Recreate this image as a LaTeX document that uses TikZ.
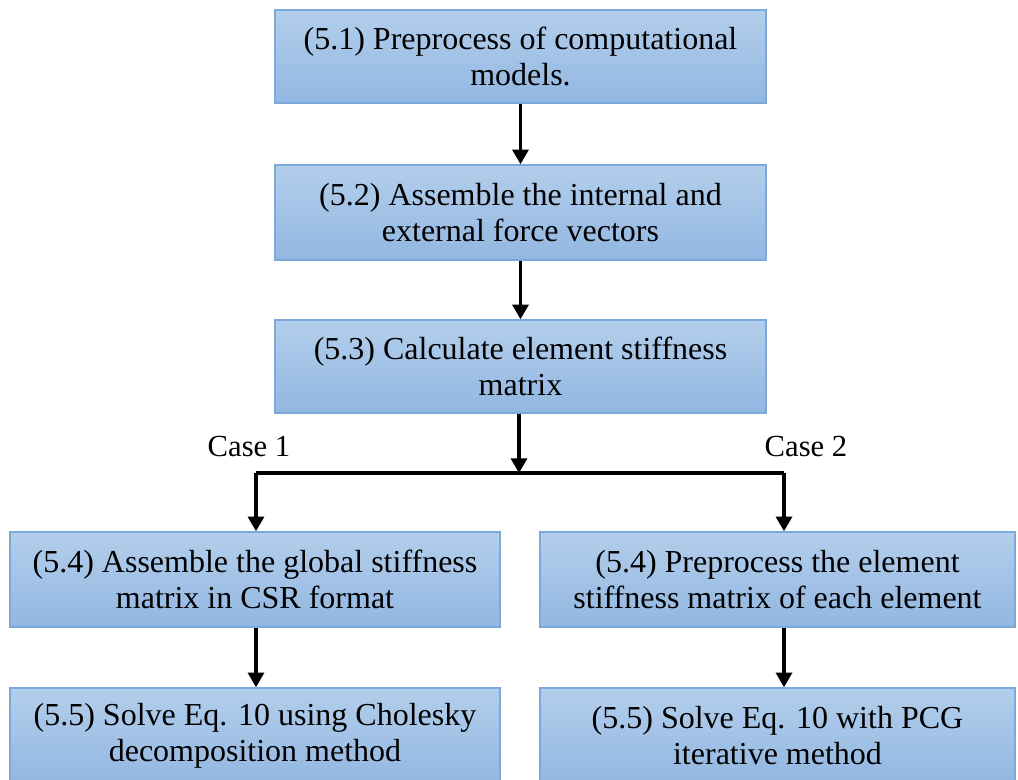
\documentclass[tikz,border=0pt]{standalone}
\usepackage{fontspec}
\setmainfont{Liberation Serif}[Ligatures=TeX]
\newfontfamily\tnr{Liberation Serif}
\usetikzlibrary{arrows.meta}
\definecolor{boxtop}{HTML}{B3CEEB}
\definecolor{boxbot}{HTML}{92B7E2}
\definecolor{boxline}{HTML}{7DA8DA}
\begin{document}
\begin{tikzpicture}[x=0.75pt,y=-0.75pt,
  box/.style={draw=boxline, line width=1.1pt, top color=boxtop, bottom color=boxbot,
    font=\tnr\fontsize{24}{27}\selectfont, align=center, inner sep=0pt},
  arr/.style={line width=2.5pt, -{Triangle[width=12pt,length=11pt]}},
  link/.style={line width=2.5pt},
  lbl/.style={font=\tnr\fontsize{23}{27}\selectfont, inner sep=0pt}]
\useasboundingbox (0,0) rectangle (1018,779);
\clip (0,0) rectangle (1018,779);
\fill[white] (0,0) rectangle (1018,779);

\node[box, minimum width=368.25pt, minimum height=69.75pt] (b1) at (520.5,56.5)
  {(5.1) Preprocess of computational\\models.};
\node[box, minimum width=368.25pt, minimum height=71.25pt] (b2) at (520.5,212.5)
  {(5.2) Assemble the internal and\\external force vectors};
\node[box, minimum width=368.25pt, minimum height=69.75pt] (b3) at (520.5,366.5)
  {(5.3) Calculate element stiffness\\matrix};
\node[box, minimum width=367.5pt, minimum height=71.25pt] (b4) at (255,579.5)
  {(5.4) Assemble the global stiffness\\matrix in CSR format};
\node[box, minimum width=356.25pt, minimum height=71.25pt] (b5) at (777.5,579.5)
  {(5.4) Preprocess the element\\stiffness matrix of each element};
\node[box, minimum width=367.5pt, minimum height=72pt] (b6) at (255,736)
  {(5.5) Solve Eq. 10 using Cholesky\\decomposition method};
\node[box, minimum width=356.25pt, minimum height=72pt] (b7) at (777.5,736)
  {(5.5) Solve Eq. 10 with PCG\\iterative method};

\node[lbl] (c1) at (249,446) {Case 1};
\node[lbl] (c2) at (806,446) {Case 2};

\coordinate (j) at (519,473);
\coordinate (jl) at (256,473);
\coordinate (jr) at (784,473);

\draw[arr] (b1) -- (b2);
\draw[arr] (b2) -- (b3);
\draw[arr] (b3.south -| j) -- (j);
\draw[link, line join=miter] (jl) -- (jr);
\draw[arr] (jl) -- (jl |- b4.north);
\draw[arr] (jr) -- (jr |- b5.north);
\draw[arr] (jl |- b4.south) -- (jl |- b6.north);
\draw[arr] (jr |- b5.south) -- (jr |- b7.north);
\end{tikzpicture}
\end{document}
